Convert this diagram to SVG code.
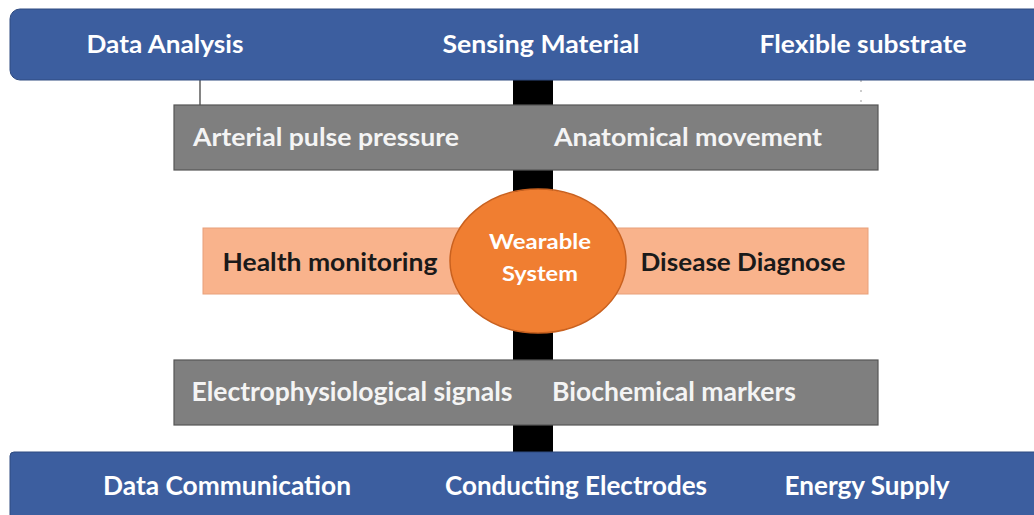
<svg xmlns="http://www.w3.org/2000/svg" width="1034" height="515" viewBox="0 0 1034 515">
<style>
.bar{fill:#3C5E9F;stroke:#2F4B80;stroke-width:1}
.gray{fill:#7F7F7F;stroke:#555;stroke-width:1.2}
.band{fill:#F9B38C;stroke:#E8A07A;stroke-width:1}
.t{font-family:Lato,"Liberation Sans",sans-serif;font-weight:bold;font-size:24px;text-anchor:middle}
.tall{font-size:26px}
.w{fill:#FFFFFF}
.g{fill:#F4F4F4}
.k{fill:#1A1A1A}
</style>
<rect width="1034" height="515" fill="#FFFFFF"/>
<g id="connectors">
<rect x="513" y="78" width="40" height="376" fill="#000"/>
<line x1="200" y1="80" x2="200" y2="105" stroke="#333" stroke-width="1.2"/>
<line x1="861" y1="80" x2="861" y2="105" stroke="#999" stroke-width="1" stroke-dasharray="2 8"/>
</g>
<g id="top-bar">
<rect class="bar" x="10" y="9" width="1040" height="71" rx="10"/>
<text class="t w" x="165" y="53" textLength="157" lengthAdjust="spacingAndGlyphs">Data Analysis</text>
<text class="t w" x="541" y="53" textLength="197" lengthAdjust="spacingAndGlyphs">Sensing Material</text>
<text class="t w" x="863" y="53" textLength="207" lengthAdjust="spacingAndGlyphs">Flexible substrate</text>
</g>
<g id="upper-gray">
<rect class="gray" x="174" y="105" width="704" height="65"/>
<text class="t g" x="326" y="146" textLength="266" lengthAdjust="spacingAndGlyphs">Arterial pulse pressure</text>
<text class="t g" x="688" y="146" textLength="268" lengthAdjust="spacingAndGlyphs">Anatomical movement</text>
</g>
<g id="orange-band">
<rect class="band" x="203" y="228" width="665" height="66"/>
<text class="t k" x="330" y="271" textLength="215" lengthAdjust="spacingAndGlyphs">Health monitoring</text>
<text class="t k" x="743" y="271" textLength="205" lengthAdjust="spacingAndGlyphs">Disease Diagnose</text>
</g>
<g id="wearable-system">
<ellipse cx="538" cy="261" rx="88" ry="72" fill="#F07E31" stroke="#C9611F" stroke-width="1.5"/>
<text class="t w" x="540" y="249" style="font-size:21px" textLength="102" lengthAdjust="spacingAndGlyphs">Wearable</text>
<text class="t w" x="540" y="281" style="font-size:21px" textLength="76" lengthAdjust="spacingAndGlyphs">System</text>
</g>
<g id="lower-gray">
<rect class="gray" x="174" y="360" width="704" height="65"/>
<text class="t tall g" x="352" y="401" textLength="321" lengthAdjust="spacingAndGlyphs">Electrophysiological signals</text>
<text class="t tall g" x="674" y="401" textLength="244" lengthAdjust="spacingAndGlyphs">Biochemical markers</text>
</g>
<g id="bottom-bar">
<rect class="bar" x="10" y="452" width="1040" height="75" rx="4"/>
<text class="t tall w" x="227" y="495" textLength="248" lengthAdjust="spacingAndGlyphs">Data Communication</text>
<text class="t tall w" x="576" y="495" textLength="262" lengthAdjust="spacingAndGlyphs">Conducting Electrodes</text>
<text class="t tall w" x="867" y="495" textLength="165" lengthAdjust="spacingAndGlyphs">Energy Supply</text>
</g>
</svg>
